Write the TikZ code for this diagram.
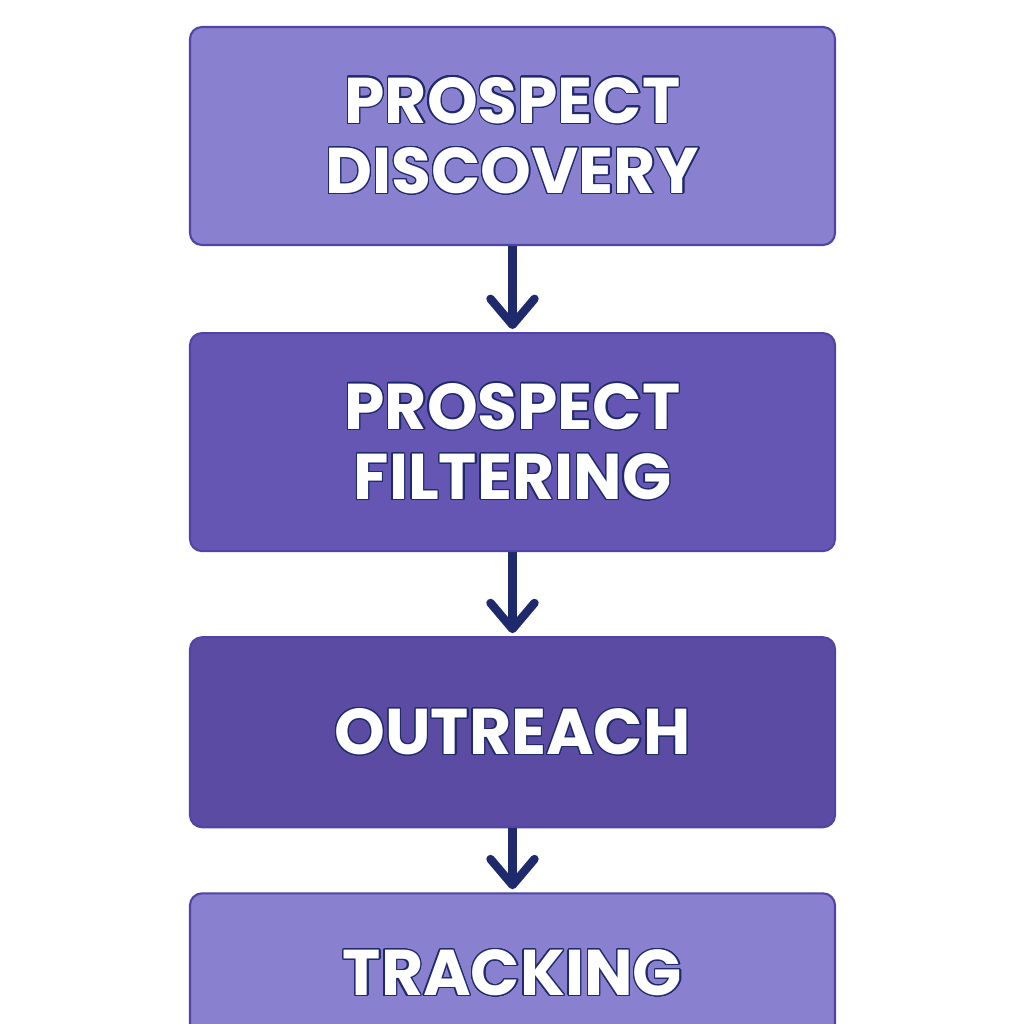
\documentclass[tikz,border=0pt]{standalone}
\usepackage{fontspec}
\setmainfont{Poppins}
\usepackage[copies]{contour}
\usetikzlibrary{positioning,arrows.meta}
\definecolor{stepLight}{HTML}{8A80D0}
\definecolor{stepMid}{HTML}{6656B4}
\definecolor{stepDark}{HTML}{5B4BA2}
\definecolor{stepEdge}{HTML}{5144A6}
\definecolor{arrowNavy}{HTML}{1F2A6C}
\contourlength{0.35pt}
\contournumber{24}
\newcommand{\steptext}[1]{\contour{arrowNavy}{#1}}

\begin{document}
\begin{tikzpicture}
            \clip (0,0) rectangle (10.24,-10.24);
            \fill [white] (0,0) rectangle (10.24,-10.24);

            \tikzset{stage/.style={draw=stepEdge, line width=0.6pt, rounded corners=0.12cm,
                    minimum width=6.45cm, text=white, align=center,
                    font=\fontsize{18.4}{20}\selectfont\bfseries},
                flow/.style={arrowNavy, line width=2.4pt,
                    -{Straight Barb[length=0.26cm, width=0.44cm, line cap=round, line join=round]}}}

            \node[stage, fill=stepLight, minimum height=2.18cm] (discovery) at (5.125,-1.36)
                {\steptext{PROSPECT}\\\steptext{DISCOVERY}};
            \node[stage, fill=stepMid, minimum height=2.18cm, below=0.86cm of discovery] (filtering)
                {\steptext{PROSPECT}\\\steptext{FILTERING}};
            \node[stage, fill=stepDark, minimum height=1.90cm, below=0.84cm of filtering] (outreach)
                {\steptext{OUTREACH}};
            \node[stage, fill=stepLight, minimum height=1.60cm, below=0.64cm of outreach] (tracking)
                {\steptext{TRACKING}};

            \draw[flow] (discovery.south) -- ([yshift=0.03cm]filtering.north);
            \draw[flow] (filtering.south) -- ([yshift=0.03cm]outreach.north);
            \draw[flow] (outreach.south) -- ([yshift=0.03cm]tracking.north);
        \end{tikzpicture}
\end{document}
